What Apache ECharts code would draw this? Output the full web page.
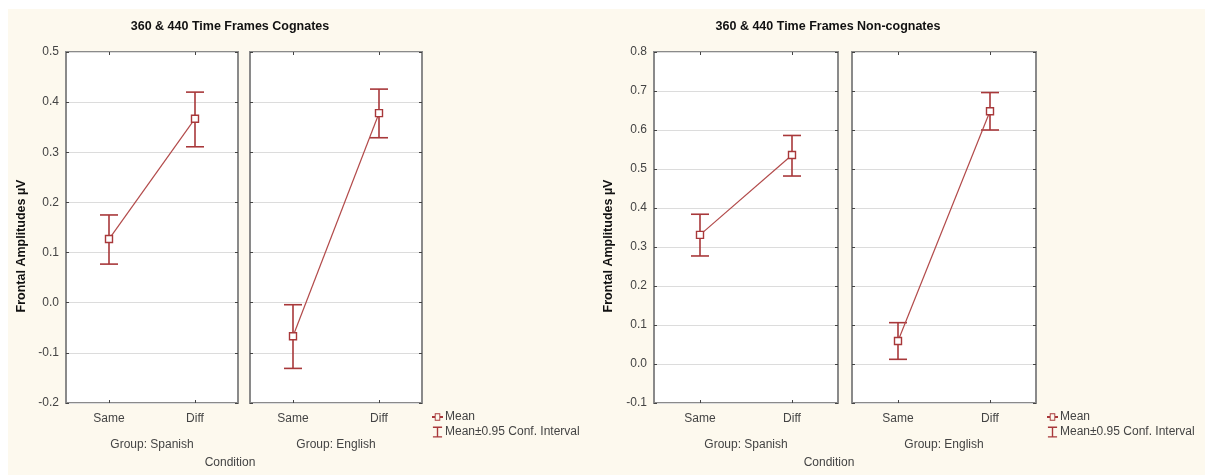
<!DOCTYPE html>
<html><head><meta charset="utf-8">
<script src="https://cdn.jsdelivr.net/npm/echarts@6/dist/echarts.min.js"></script>
<style>
html,body{margin:0;padding:0;background:#fff;}
#bg{position:absolute;left:8px;top:9px;width:1197px;height:466px;background:#FDF9EE;}
#c{position:absolute;left:0;top:0;width:1205px;height:475px;}
</style></head><body>
<div id="bg"></div><div id="c"></div>
<script>
const categories = ['Same', 'Diff'];
const groups = ['Group: Spanish', 'Group: English'];
const chartTitles = ['360 & 440 Time Frames Cognates', '360 & 440 Time Frames Non-cognates'];
const yLabel = 'Frontal Amplitudes µV';
const xLabel = 'Condition';
const legendNames = ['Mean', 'Mean±0.95 Conf. Interval'];

const cogSpanishMean = [0.127, 0.367];
const cogSpanishLow  = [0.077, 0.311];
const cogSpanishHigh = [0.175, 0.420];
const cogEnglishMean = [-0.067, 0.378];
const cogEnglishLow  = [-0.131, 0.329];
const cogEnglishHigh = [-0.004, 0.426];
const nonSpanishMean = [0.331, 0.536];
const nonSpanishLow  = [0.277, 0.482];
const nonSpanishHigh = [0.384, 0.586];
const nonEnglishMean = [0.059, 0.648];
const nonEnglishLow  = [0.012, 0.600];
const nonEnglishHigh = [0.106, 0.696];

const yRanges = [[-0.2, 0.5], [-0.1, 0.8]];

const panels = [
  {mean: cogSpanishMean, low: cogSpanishLow, high: cogSpanishHigh, group: 0, chart: 0, left: 66, width: 172, first: true},
  {mean: cogEnglishMean, low: cogEnglishLow, high: cogEnglishHigh, group: 1, chart: 0, left: 250, width: 172, first: false},
  {mean: nonSpanishMean, low: nonSpanishLow, high: nonSpanishHigh, group: 0, chart: 1, left: 654, width: 184, first: true},
  {mean: nonEnglishMean, low: nonEnglishLow, high: nonEnglishHigh, group: 1, chart: 1, left: 852, width: 184, first: false}
];

const RED = '#A8383A';
const FONT = 'Liberation Sans';
const TXT = '#444';

const grid = [], xAxis = [], yAxis = [], series = [];
panels.forEach((p, i) => {
  grid.push({left: p.left, top: 52, width: p.width, height: 351, show: true, backgroundColor: '#fff', borderColor: '#8a8a8a', borderWidth: 2});
  const yr = yRanges[p.chart];
  xAxis.push({type: 'category', gridIndex: i, data: categories, position: 'bottom',
    axisLine: {show: false, onZero: false}, axisTick: {show: true, inside: true, alignWithLabel: true, length: 3, lineStyle: {color: '#444'}},
    axisLabel: {fontFamily: FONT, fontSize: 12, color: TXT, margin: 10},
    name: groups[p.group], nameLocation: 'middle', nameGap: 36,
    nameTextStyle: {fontFamily: FONT, fontSize: 12, color: TXT}});
  xAxis.push({type: 'category', gridIndex: i, data: categories, position: 'top',
    axisLine: {show: false, onZero: false}, axisTick: {show: true, inside: true, alignWithLabel: true, length: 3, lineStyle: {color: '#444'}},
    axisLabel: {show: false}});
  yAxis.push({type: 'value', gridIndex: i, min: yr[0], max: yr[1], interval: 0.1, position: 'left',
    axisLine: {show: false, onZero: false}, axisTick: {show: true, inside: true, length: 3, lineStyle: {color: '#444'}},
    splitLine: {show: true, lineStyle: {color: '#dcdcdc', width: 1}},
    axisLabel: {show: p.first, fontFamily: FONT, fontSize: 12, color: TXT, margin: 7, formatter: v => v.toFixed(1)}});
  yAxis.push({type: 'value', gridIndex: i, min: yr[0], max: yr[1], interval: 0.1, position: 'right',
    axisLine: {show: false, onZero: false}, axisTick: {show: true, inside: true, length: 3, lineStyle: {color: '#444'}},
    splitLine: {show: false}, axisLabel: {show: false}});

  const errData = categories.map((c, k) => [k, p.low[k], p.high[k]]);
  series.push({
    type: 'custom', name: legendNames[1], xAxisIndex: 2 * i, yAxisIndex: 2 * i, z: 3,
    itemStyle: {color: RED},
    data: errData,
    renderItem: function (params, api) {
      const x = api.value(0);
      const lo = api.coord([x, api.value(1)]);
      const hi = api.coord([x, api.value(2)]);
      const hw = 9;
      const st = {stroke: RED, lineWidth: 1.6, fill: null};
      return {type: 'group', children: [
        {type: 'line', shape: {x1: lo[0], y1: lo[1], x2: hi[0], y2: hi[1]}, style: st},
        {type: 'line', shape: {x1: lo[0] - hw, y1: lo[1], x2: lo[0] + hw, y2: lo[1]}, style: st},
        {type: 'line', shape: {x1: hi[0] - hw, y1: hi[1], x2: hi[0] + hw, y2: hi[1]}, style: st}
      ]};
    }
  });
  series.push({
    type: 'line', name: legendNames[0], xAxisIndex: 2 * i, yAxisIndex: 2 * i, z: 4,
    data: p.mean, symbol: 'rect', symbolSize: 7, showSymbol: true,
    lineStyle: {color: '#B24A4A', width: 1.2},
    itemStyle: {color: '#fff', borderColor: RED, borderWidth: 1.4}
  });
});

const meanIcon = 'path://M0,4H3V1H9V4H12V6H9V9H3V6H0Z M4,2V8H8V2Z';
const ciIcon = 'path://M0,0H10V1.5H5.75V10.5H10V12H0V10.5H4.25V1.5H0Z';
function legendAt(left) {
  return {orient: 'vertical', left: left, top: 411, itemGap: 3, itemWidth: 11, itemHeight: 11, padding: 0,
    selectedMode: false,
    textStyle: {fontFamily: FONT, fontSize: 12, color: TXT, padding: [0, 0, 0, -3]},
    data: [
      {name: legendNames[0], icon: meanIcon, itemStyle: {color: RED, borderWidth: 0}},
      {name: legendNames[1], icon: ciIcon, itemStyle: {color: RED, borderWidth: 0}}
    ]};
}

function yName(x) {
  return {type: 'text', x: x, y: 246, rotation: Math.PI / 2,
    style: {text: yLabel, font: 'bold 12.5px "Liberation Sans"', fill: '#111', align: 'center', verticalAlign: 'middle'}};
}

const option = {
  backgroundColor: 'transparent',
  animation: false,
  title: [
    {text: chartTitles[0], left: 230, top: 20, padding: 0, textAlign: 'center', textStyle: {fontFamily: FONT, fontSize: 12.5, fontWeight: 'bold', color: '#111'}},
    {text: chartTitles[1], left: 828, top: 20, padding: 0, textAlign: 'center', textStyle: {fontFamily: FONT, fontSize: 12.5, fontWeight: 'bold', color: '#111'}},
    {text: xLabel, left: 230, top: 457, padding: 0, textAlign: 'center', textStyle: {fontFamily: FONT, fontSize: 12, fontWeight: 'normal', color: TXT}},
    {text: xLabel, left: 829, top: 457, padding: 0, textAlign: 'center', textStyle: {fontFamily: FONT, fontSize: 12, fontWeight: 'normal', color: TXT}}
  ],
  graphic: [yName(22), yName(609)],
  legend: [legendAt(432), legendAt(1047)],
  grid: grid, xAxis: xAxis, yAxis: yAxis, series: series
};
const chart = echarts.init(document.getElementById('c'), null, {renderer: 'canvas'});
chart.setOption(option);
</script>
</body></html>
